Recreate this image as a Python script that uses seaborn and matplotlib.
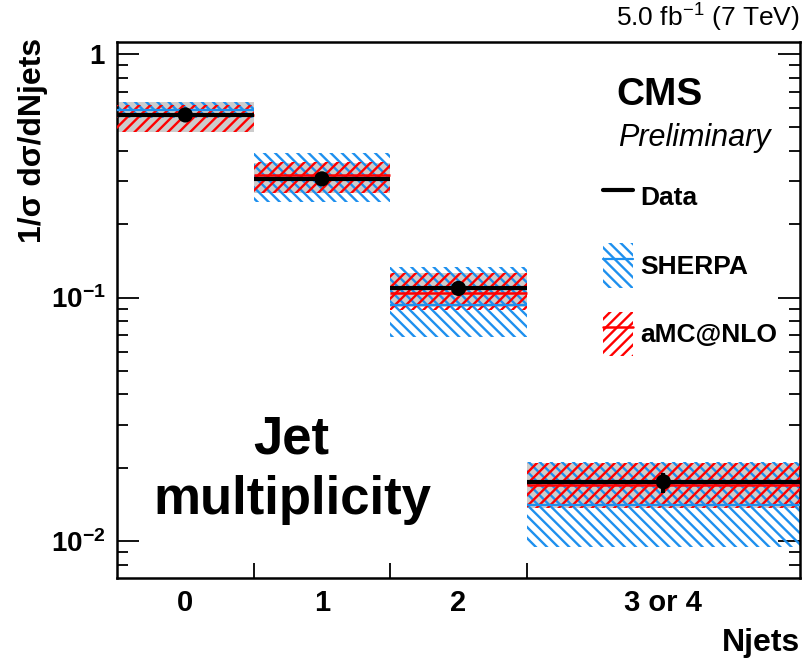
import numpy as np
import pandas as pd
import matplotlib
matplotlib.use("Agg")
import matplotlib.pyplot as plt
import seaborn as sns
from matplotlib.lines import Line2D
from matplotlib.patches import Patch
from matplotlib.legend_handler import HandlerTuple
from matplotlib.ticker import FixedLocator, NullFormatter

# ---------------- data ----------------
njets_labels = ["0", "1", "2", "3 or 4"]
bin_edges = [-0.5, 0.5, 1.5, 2.5, 4.5]

data_val = [0.562, 0.307, 0.109, 0.0175]
data_stat_lo = [0.553, 0.301, 0.106, 0.0158]
data_stat_hi = [0.571, 0.313, 0.112, 0.0191]
data_sys_lo = [0.480, 0.269, 0.0914, 0.0137]
data_sys_hi = [0.637, 0.357, 0.126, 0.0209]

sherpa_val = [0.589, 0.310, 0.0931, 0.0141]
sherpa_lo = [0.545, 0.247, 0.0688, 0.00948]
sherpa_hi = [0.637, 0.392, 0.133, 0.0212]

amc_val = [0.562, 0.318, 0.104, 0.0170]
amc_lo = [0.478, 0.269, 0.0889, 0.0137]
amc_hi = [0.617, 0.360, 0.126, 0.0209]

# ---------------- style ----------------
sns.set_theme(style="ticks")
plt.rcParams["font.family"] = ["Liberation Sans", "DejaVu Sans"]
plt.rcParams["mathtext.fontset"] = "custom"
plt.rcParams["mathtext.rm"] = "Liberation Sans"
plt.rcParams["mathtext.bf"] = "Liberation Sans:bold"
plt.rcParams["mathtext.it"] = "Liberation Sans:italic"
plt.rcParams["hatch.linewidth"] = 1.7
for k in ("text.color", "axes.labelcolor", "xtick.color", "ytick.color", "axes.edgecolor"):
    plt.rcParams[k] = "black"

BLUE = "#1e90ee"
RED = "#ff0000"
GRAY = "#cccccc"

edges = np.array(bin_edges)
lefts = edges[:-1]
rights = edges[1:]
widths = rights - lefts
centers = 0.5 * (lefts + rights)

df = pd.DataFrame({
    "njets": centers,
    "xsec": data_val,
})

fig = plt.figure(figsize=(8.05, 6.6), dpi=100)
ax = fig.add_axes([117 / 805, 82 / 660, 683 / 805, 536 / 660])

ax.set_yscale("log")
ax.set_xlim(-0.5, 4.5)
ax.set_ylim(0.00705, 1.12)

# data systematic band (gray)
ax.bar(centers, np.array(data_sys_hi) - np.array(data_sys_lo), bottom=data_sys_lo,
       width=widths, color=GRAY, edgecolor="none", linewidth=0, zorder=1)
# SHERPA band
ax.bar(centers, np.array(sherpa_hi) - np.array(sherpa_lo), bottom=sherpa_lo,
       width=widths, facecolor="none", edgecolor=BLUE, hatch="\\\\\\", linewidth=0, zorder=2)
# aMC@NLO band
ax.bar(centers, np.array(amc_hi) - np.array(amc_lo), bottom=amc_lo,
       width=widths, facecolor="none", edgecolor=RED, hatch="///", linewidth=0, zorder=3)

ax.hlines(sherpa_val, lefts, rights, colors=BLUE, linewidth=1.6, zorder=4)
ax.hlines(amc_val, lefts, rights, colors=RED, linewidth=1.8, zorder=5)
ax.hlines(data_val, lefts, rights, colors="black", linewidth=3.0, zorder=6)

ax.vlines(centers, data_stat_lo, data_stat_hi, colors="black", linewidth=3.0, zorder=7)
sns.scatterplot(data=df, x="njets", y="xsec", ax=ax, color="black", s=120,
                edgecolor="none", zorder=8, legend=False)

# ---------------- axes ----------------
ax.set_xlabel("")
ax.set_ylabel("")
for sp in ax.spines.values():
    sp.set_linewidth(1.8)
    sp.set_color("black")

ax.set_xticks(centers)
ax.set_xticklabels(njets_labels, fontsize=21, fontweight="bold")
ax.xaxis.set_minor_locator(FixedLocator(list(edges[1:-1])))
ax.tick_params(axis="x", which="major", length=0, pad=8)
ax.tick_params(axis="x", which="minor", length=11, width=1.3, direction="in",
               bottom=True, top=False)

ax.set_yticks([0.01, 0.1, 1.0])
ax.set_yticklabels([r"$\mathbf{10^{-2}}$", r"$\mathbf{10^{-1}}$", r"$\mathbf{1}$"], fontsize=20)
minor_y = [m * 10.0 ** e for e in (-3, -2, -1) for m in range(2, 10)]
ax.yaxis.set_minor_locator(FixedLocator(minor_y))
ax.yaxis.set_minor_formatter(NullFormatter())
ax.tick_params(axis="y", which="major", length=16, width=1.3, direction="in",
               left=True, right=True, pad=8)
ax.tick_params(axis="y", which="minor", length=8, width=1.3, direction="in",
               left=True, right=True)

# axis titles
fig.text(33 / 805, 1 - 38 / 660, "1/σ dσ/dNjets",
         rotation=90, ha="center", va="top", fontsize=23, fontweight="bold")
fig.text(800 / 805, 1 - 643 / 660, "Njets", ha="right", va="center",
         fontsize=23, fontweight="bold")

# header
fig.text(800 / 805, 1 - 18 / 660, r"5.0 fb$^{-1}$ (7 TeV)", ha="right", va="center",
         fontsize=19)

# CMS labels
fig.text(616 / 805, 1 - 95 / 660, "CMS", ha="left", va="center", fontsize=28,
         fontweight="bold")
fig.text(618 / 805, 1 - 138 / 660, "Preliminary", ha="left", va="center",
         fontsize=22, style="italic")

# big label
fig.text(291 / 805, 1 - 440 / 660, "Jet", ha="center", va="center", fontsize=38,
         fontweight="bold")
fig.text(292 / 805, 1 - 500 / 660, "multiplicity", ha="center", va="center",
         fontsize=38, fontweight="bold")

# legend
h_data = Line2D([], [], color="black", linewidth=3.0)
h_sherpa = (Patch(facecolor="none", edgecolor=BLUE, hatch="\\\\\\", linewidth=0),
            Line2D([], [], color=BLUE, linewidth=1.6))
h_amc = (Patch(facecolor="none", edgecolor=RED, hatch="///", linewidth=0),
         Line2D([], [], color=RED, linewidth=1.8))
leg = fig.legend([h_data, h_sherpa, h_amc], ["Data", "SHERPA", "aMC@NLO"],
                 loc="upper left", bbox_to_anchor=(603 / 805, 1 - 175 / 660),
                 frameon=False, prop={"size": 19, "weight": "bold"},
                 handlelength=1.14, handleheight=2.2, handletextpad=0.27,
                 labelspacing=0.92, borderpad=0.0, borderaxespad=0.0,
                 handler_map={tuple: HandlerTuple(ndivide=1, pad=0)})

fig.savefig("out.png", dpi=100)
